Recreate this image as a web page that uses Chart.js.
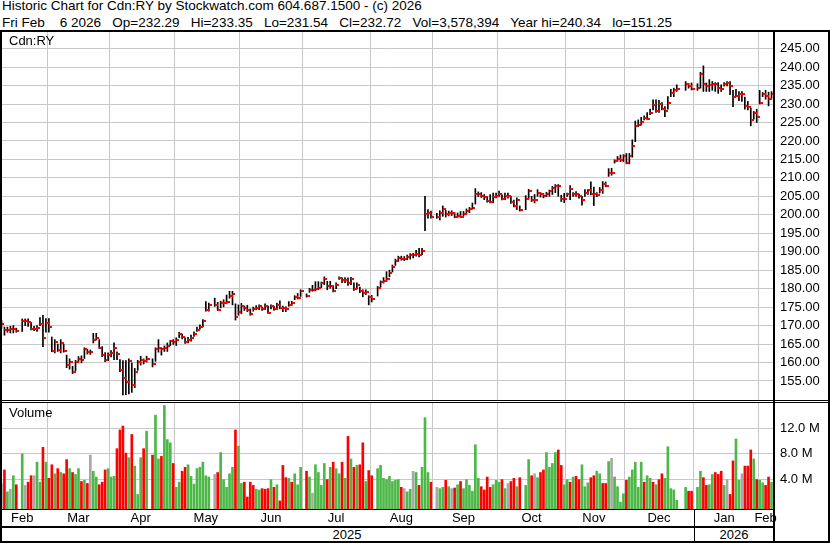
<!DOCTYPE html>
<html lang="en">
<head>
<meta charset="UTF-8">
<title>Historic Chart for Cdn:RY</title>
<style>
    body {
        margin: 0;
        background: #fff;
        font-family: Arial, "Liberation Sans", sans-serif;
        font-size: 13px;
        color: #000;
    }
    #page {
        position: relative;
        width: 830px;
        height: 543px;
        overflow: hidden;
        background: #fff;
    }
    .txt {
        position: absolute;
        white-space: pre;
        line-height: 15px;
    }
    .head {
        font-size: 13.5px;
    }
    .rule {
        position: absolute;
        background: #000;
    }
    .pane {
        position: absolute;
        left: 0;
    }
</style>
</head>
<body>
<div id="page">
    <div class="txt head" style="left:2px; top:-2px;">Historic Chart for Cdn:RY by Stockwatch.com 604.687.1500 - (c) 2026</div>
    <div class="txt head" style="left:2px; top:15px;">Fri Feb    6 2026   Op=232.29   Hi=233.35   Lo=231.54   Cl=232.72   Vol=3,578,394   Year hi=240.34   lo=151.25</div>

    <div class="pane" style="top:32px;"><canvas id="priceChart" width="830" height="368"></canvas></div>
    <div class="pane" style="top:403px;"><canvas id="volChart" width="830" height="124"></canvas></div>

    <div class="txt" style="left:9px; top:33px;">Cdn:RY</div>
    <div class="txt" style="left:9px; top:405px;">Volume</div>
    <div class="txt" style="left:0; width:694px; top:527px; text-align:center;">2025</div>
    <div class="txt" style="left:694px; width:80px; top:527px; text-align:center;">2026</div>

    <!-- frame -->
    <div class="rule" style="left:0; top:30px; width:830px; height:2px;"></div>
    <div class="rule" style="left:0; top:30px; width:2px; height:513px;"></div>
    <div class="rule" style="left:828px; top:30px; width:2px; height:513px;"></div>
    <div class="rule" style="left:0; top:541px; width:830px; height:2px;"></div>
    <div class="rule" style="left:773px; top:32px; width:2px; height:509px;"></div>
    <div class="rule" style="left:0; top:400px; width:830px; height:1px;"></div>
    <div class="rule" style="left:0; top:402px; width:830px; height:1px;"></div>
    <div class="rule" style="left:0; top:509px; width:775px; height:1px;"></div>
    <div class="rule" style="left:0; top:526px; width:775px; height:2px;"></div>
    <div class="rule" style="left:694px; top:509px; width:1px; height:32px;"></div>
</div>

<script src="https://cdn.jsdelivr.net/npm/chart.js"></script>
<script>
// every weekday from Feb 7 2025 to Feb 6 2026, market holidays are null
const firstDay = '2025-02-07';
const lastDay = '2026-02-06';
const monthNames = ['Jan', 'Feb', 'Mar', 'Apr', 'May', 'Jun', 'Jul', 'Aug', 'Sep', 'Oct', 'Nov', 'Dec'];

const priceTicks = [155, 160, 165, 170, 175, 180, 185, 190, 195, 200, 205, 210, 215, 220, 225, 230, 235, 240, 245];
const volTicks = [4, 8, 12];

const closes = [
    170.4, 168.7, 168.9, 169.0, 169.2, 168.6, null, 171.3, 171.3, 171.1, 169.1, 169.1, 169.4, 170.4, 166.6, 170.8,
    169.5, 163.2, 165.5, 163.4, 165.4, 163.1, 159.2, 160.1, 157.3, 160.1, 161.0, 160.8, 163.6, 162.9, 162.9, 166.2, 166.7, 164.0, 162.0, 160.8, 162.0,
    162.5, 164.0, 162.3, 157.9, 155.7, 154.7, 160.5, 154.0, 157.3, 160.1, 160.8, 160.5, 161.0, null, 159.6, 163.6, 163.9, 163.6, 163.9, 164.4, 165.7, 165.5,
    166.2, 167.7, 166.9, 165.5, 166.2, 166.7, 167.7, 168.9, 169.7, 171.3, 174.1, 175.6, null, 175.6, 174.3, 176.1, 176.2, 176.3, 177.9, 178.6, 172.2, 173.8,
    175.2, 174.7, 174.1, 173.2, 174.5, 174.7, 175.4, 174.5, 175.2, 173.5, 175.2, 174.5, 175.6, 174.7, 174.7, 174.5, 175.6, 176.1, 177.7, 177.5, 179.5,
    null, 178.1, 179.7, 179.7, 179.9, 180.2, 181.4, 182.5, 180.6, 180.6, 179.3, 181.1, 182.9, 182.3, 182.3, 181.4, 182.5, 179.9, 181.1, 179.3, 178.8, 179.0, 177.7,
    177.3, null, 180.2, 181.7, 182.0, 182.6, 184.3, 185.8, 187.4, 188.3, 188.1, 188.1, 188.5, 189.0, 189.0, 189.5, 189.0, 190.3, 200.2, 200.6, 199.5,
    null, 199.5, 200.6, 201.6, 200.2, 200.5, 200.5, 199.5, 199.8, 199.5, 200.2, 200.9, 201.5, 201.8, 205.5, 205.6, 205.2, 204.7, 203.8, 203.5, 204.8, 205.2,
    205.5, 204.4, 205.0, 205.0, 203.6, 202.5, 203.9, 201.2, null, 204.3, 206.4, 204.1, 204.1, 205.9, 205.5, 205.0, 205.5, 206.4, 207.3, 207.9, 207.7, 204.4, 204.3,
    205.6, 207.0, 205.5, 205.6, 205.2, 204.1, 205.9, 206.6, 205.7, 205.7, 205.3, 206.7, 208.3, 207.8, 211.4, 211.4, 214.7, 215.1, 214.8, 215.9,
    214.1, 215.9, 218.5, 224.1, 224.3, 225.0, 226.3, 226.0, 227.7, 229.8, 228.2, 230.0, 228.7, 228.0, 230.4, 232.9, 233.7, 234.1, null, null, 235.4, 235.0, 234.0,
    null, 234.3, 238.2, 235.5, 235.0, 235.2, 235.5, 235.4, 234.3, 234.1, 235.5, 235.7, 235.0, 232.0, 232.3, 232.8, 232.8, 229.5, 229.3, 225.7, 227.5, 226.6,
    230.4, 232.8, 232.3, 231.3, 232.72
];

const highs = [
    171.4, 169.6, 169.6, 169.8, 170.0, 169.3, null, 171.8, 171.8, 171.8, 170.8, 169.8, 170.0, 172.2, 172.8, 171.9,
    171.9, 166.9, 166.2, 165.0, 166.2, 165.0, 162.0, 161.0, 159.0, 160.6, 161.6, 161.8, 164.0, 163.6, 163.4, 167.9, 167.9, 166.2, 164.3, 162.7, 162.6,
    163.2, 165.3, 162.9, 160.8, 160.5, 160.5, 161.0, 159.9, 158.4, 160.6, 161.7, 161.0, 161.7, null, 161.0, 164.0, 166.2, 164.0, 164.5, 165.3, 166.0, 166.2,
    166.7, 168.2, 167.7, 166.7, 166.8, 167.4, 168.3, 169.6, 170.2, 171.6, 176.5, 176.1, null, 177.4, 176.3, 176.6, 177.0, 178.3, 179.3, 179.3, 175.9, 175.6,
    176.0, 175.3, 175.5, 174.5, 175.0, 175.4, 175.6, 175.0, 175.9, 175.3, 175.6, 175.2, 176.1, 176.7, 175.3, 175.1, 176.5, 176.6, 178.1, 178.7, 179.7,
    null, 178.6, 180.1, 180.9, 181.9, 181.9, 181.8, 183.2, 182.0, 182.0, 180.8, 181.6, 183.2, 182.9, 183.0, 182.9, 183.1, 181.6, 181.6, 180.4, 179.7, 179.7, 178.1,
    178.2, null, 180.6, 182.1, 183.0, 184.6, 185.0, 186.4, 188.0, 188.8, 188.8, 188.7, 189.1, 189.5, 189.6, 190.4, 190.9, 190.9, 205.0, 201.4, 201.0,
    null, 200.4, 201.1, 202.4, 201.2, 201.0, 201.1, 200.6, 200.5, 200.9, 200.9, 201.6, 202.0, 203.2, 207.1, 206.2, 206.0, 205.5, 204.9, 205.5, 205.9, 205.9,
    206.4, 205.4, 205.9, 205.9, 205.0, 204.0, 204.6, 202.4, null, 205.2, 206.9, 205.0, 205.5, 206.8, 206.0, 205.7, 206.1, 206.7, 207.7, 208.2, 208.2, 205.3, 205.8,
    205.9, 207.9, 206.0, 206.3, 205.6, 205.0, 206.8, 206.8, 208.9, 207.5, 206.0, 207.4, 209.0, 208.9, 212.5, 212.6, 214.9, 215.8, 216.2, 216.3,
    216.6, 216.6, 220.3, 225.4, 225.7, 226.4, 226.8, 227.7, 228.6, 231.1, 231.1, 231.0, 230.4, 229.3, 232.0, 234.0, 234.3, 235.2, null, null, 236.1, 235.6, 235.7,
    null, 235.5, 238.6, 240.34, 235.7, 236.6, 236.1, 235.8, 235.8, 235.2, 235.8, 236.1, 236.1, 233.7, 234.0, 233.4, 233.4, 231.9, 230.7, 228.9, 228.0, 228.6,
    233.7, 233.1, 233.7, 233.2, 233.35
];

const lows = [
    169.3, 167.4, 168.2, 168.0, 168.0, 168.2, null, 168.4, 170.0, 169.8, 168.8, 168.6, 168.4, 170.0, 164.3, 168.2,
    168.2, 162.9, 162.6, 163.0, 162.6, 162.8, 158.6, 158.2, 157.0, 157.8, 160.2, 159.9, 161.1, 162.3, 162.2, 165.3, 166.1, 163.8, 161.6, 160.2, 160.5,
    161.5, 160.8, 160.8, 157.5, 151.25, 151.3, 151.5, 151.9, 153.2, 157.9, 159.3, 159.6, 160.1, null, 158.8, 160.3, 162.8, 162.0, 163.0, 163.0, 164.6, 164.9,
    164.6, 166.7, 166.4, 165.2, 165.3, 165.8, 167.1, 168.4, 169.0, 169.7, 173.9, 173.9, null, 175.2, 174.1, 174.8, 175.1, 175.9, 177.4, 175.6, 171.5, 172.8,
    173.2, 174.1, 173.8, 172.8, 173.9, 174.3, 174.3, 174.1, 174.3, 173.3, 174.5, 174.1, 174.3, 174.5, 173.8, 173.8, 175.2, 175.4, 177.0, 177.2, 177.9,
    null, 177.7, 179.0, 179.3, 179.4, 179.7, 180.3, 181.1, 179.7, 180.1, 179.1, 180.0, 182.5, 181.6, 181.6, 180.9, 181.1, 179.5, 179.9, 178.9, 177.8, 178.4, 175.6,
    176.4, null, 178.0, 180.4, 181.5, 182.0, 183.2, 184.5, 186.3, 187.4, 187.7, 187.6, 187.8, 188.0, 188.3, 188.8, 188.6, 189.2, 195.7, 199.1, 199.1,
    null, 199.0, 198.6, 199.6, 199.4, 199.7, 199.8, 199.2, 199.3, 199.3, 199.7, 200.3, 200.6, 201.5, 202.9, 204.9, 204.7, 204.1, 203.4, 203.2, 203.3, 204.6,
    205.0, 204.0, 204.1, 204.5, 203.1, 202.1, 201.4, 201.0, null, 201.4, 204.3, 203.6, 203.2, 205.0, 204.8, 204.6, 204.9, 205.0, 205.5, 206.0, 205.0, 203.6, 203.3,
    205.0, 204.1, 205.0, 205.0, 204.5, 202.6, 205.0, 205.5, 205.4, 202.5, 204.9, 205.9, 205.8, 207.6, 210.4, 210.7, 214.0, 214.5, 214.4, 214.4,
    213.8, 213.8, 215.6, 219.8, 223.9, 224.3, 225.7, 225.8, 227.1, 228.4, 227.7, 227.7, 228.4, 226.6, 228.6, 232.0, 232.0, 233.4, null, null, 233.7, 234.3, 233.8,
    null, 233.7, 234.3, 233.4, 233.4, 233.4, 233.7, 233.4, 232.9, 233.4, 234.8, 234.9, 232.5, 229.3, 232.0, 230.9, 230.7, 228.6, 228.4, 224.1, 225.9, 225.0,
    230.0, 232.0, 231.3, 229.5, 231.54
];

// volume in millions of shares
const volumeM = [
    3.4, 5.5, 2.1, 2.5, 4.6, 3.2, null, 8.0, 3.1, 3.6, 4.6, 4.6, 6.7, 3.6, 9.0, 6.7,
    4.2, 6.3, 4.9, 5.7, 5.1, 4.9, 7.1, 5.7, 5.1, 4.8, 5.7, 3.7, 3.9, 3.4, 7.8, 5.3, 4.4, 3.2, 3.6, 5.5, 5.7,
    4.4, 4.5, 8.8, 11.7, 12.3, 8.1, 7.4, 11.0, 6.1, 1.7, 7.4, 8.8, 11.5, null, 7.8, 14.0, 7.2, 7.6, 15.5, 10.2, 9.7, 6.5,
    2.8, 3.6, 5.3, 5.9, 6.3, 4.5, 3.3, 5.7, 5.9, 6.7, 4.6, 4.4, null, 4.8, 5.1, 8.2, 4.0, 2.8, 4.9, 5.9, 11.7, 9.2,
    3.4, 3.6, 1.3, 3.6, 3.1, 2.5, 2.4, 2.6, 2.5, 2.6, 4.0, 2.8, 3.2, 0.7, 6.2, 4.3, 4.2, 3.6, 4.9, 3.2, 5.9,
    null, 5.3, 4.4, 1.9, 6.3, 5.1, 3.1, 6.5, 4.0, 5.9, 6.7, 5.7, 4.9, 6.7, 4.2, 10.7, 7.2, 5.9, 6.2, 6.3, 9.7, 3.7, 5.4,
    4.6, null, 5.7, 6.2, 4.2, 4.0, 4.5, 3.7, 3.9, 4.0, 2.8, 2.6, 2.1, 2.5, 5.3, 5.1, 3.1, 5.9, 13.6, 5.1, 3.6,
    null, 2.8, 2.6, 2.8, 3.9, 2.9, 2.6, 2.7, 3.2, 3.7, 2.6, 4.0, 3.1, 2.2, 9.4, 4.2, 2.9, 2.4, 4.4, 2.8, 3.2, 3.9,
    3.6, 4.0, 2.6, 3.4, 3.7, 4.2, 2.9, 4.3, null, 3.1, 7.1, 4.6, 4.9, 4.3, 5.1, 5.5, 8.2, 5.9, 6.5, 8.2, 8.6, 6.2, 3.2,
    4.0, 3.6, 4.4, 4.5, 4.0, 6.3, 2.9, 3.5, 4.3, 4.6, 5.3, 4.9, 3.4, 3.4, 6.8, 7.3, 4.4, 2.9, 0.5, 1.8,
    3.9, 4.4, 5.5, 6.7, 2.8, 6.7, 3.6, 4.6, 4.2, 3.6, 3.2, 4.0, 4.9, 4.2, 9.1, 2.6, 2.4, 0.8, null, null, 2.8, 2.2, 2.2,
    null, 2.8, 5.3, 4.3, 3.1, 3.2, 4.8, 5.1, 4.8, 5.3, 3.1, 4.0, 1.7, 6.9, 10.3, 3.9, 4.9, 6.1, 6.1, 8.6, 7.2, 4.0,
    3.9, 3.5, 3.1, 4.4, 3.58
];

// G = up day, R = down day, Y = unchanged, - = holiday
const moves = (
    'YRGYGR-GYRRYGGRG' +
    'RRGRGRRGRGGRGRYGGRRRG' +
    'GGRRRRGRGGGRG-RGGRGGGR' +
    'GGRRGGGGGGGG-YRGGGGGRG' +
    'GRRRRGGRRRGRGRRRGRGGG' +
    '-RGYGGGGRGRGGRGRGRGRRGR' +
    'R-GGGGGGGGRYGGYGRGGGR' +
    '-YGGRGYRGRGGGGGGRRRRGG' +
    'GRGYRRGR-GGRYGRRGGGGRRG' +
    'GRGRRGGGRRGGRRGYGGGG' +
    'RGGGGGRGGRGRRGGGGG--GRR' +
    '-GGRRGGRRRGYRRGGYRRRGR' +
    'GGRRG'
).split('');

const volColors = { G: '#4cb848', R: '#ff0000', Y: '#a8a8a8' };
const gridColor = '#c8c8c8';

// weekday calendar
const days = [];
for (let d = new Date(firstDay + 'T12:00:00Z'); d <= new Date(lastDay + 'T12:00:00Z'); d.setUTCDate(d.getUTCDate() + 1)) {
    const wd = d.getUTCDay();
    if (wd !== 0 && wd !== 6) days.push(new Date(d));
}
const labels = days.map(d => d.toISOString().slice(0, 10));

// month boundaries (grid lines) and mid-month label positions
const monthStart = new Set();
const monthText = labels.map(() => '');
let groupStart = 0;
for (let i = 1; i <= days.length; i++) {
    if (i === days.length || days[i].getUTCMonth() !== days[i - 1].getUTCMonth()) {
        const mid = Math.floor((groupStart + i - 1) / 2);
        monthText[mid] = monthNames[days[groupStart].getUTCMonth()];
        if (i < days.length) monthStart.add(i);
        groupStart = i;
    }
}

// red close tick drawn to the right of each high-low line
const tickImg = document.createElement('canvas');
tickImg.width = 6;
tickImg.height = 2;
const tctx = tickImg.getContext('2d');
tctx.fillStyle = '#ff0000';
tctx.fillRect(3, 0, 3, 2);

Chart.defaults.font.family = 'Arial, "Liberation Sans", sans-serif';
Chart.defaults.font.size = 13;
Chart.defaults.color = '#000';

// no extra room around the plot for tick labels
function noPad(s) {
    s.paddingTop = 0;
    s.paddingBottom = 0;
    s.paddingLeft = 0;
    s.paddingRight = 0;
}

const xGrid = {
    offset: true,
    drawTicks: false,
    color: ctx => monthStart.has(ctx.index) ? gridColor : 'rgba(0,0,0,0)'
};

new Chart(document.getElementById('priceChart'), {
    type: 'bar',
    data: {
        labels: labels,
        datasets: [
            {
                type: 'line',
                data: closes,
                showLine: false,
                pointStyle: tickImg,
                pointRadius: 2,
                order: 0
            },
            {
                type: 'bar',
                data: labels.map((_, i) => highs[i] == null ? null : [lows[i], highs[i]]),
                backgroundColor: '#000',
                barThickness: 1,
                order: 1
            }
        ]
    },
    options: {
        responsive: false,
        animation: false,
        events: [],
        layout: { padding: 0, autoPadding: false },
        plugins: { legend: { display: false }, tooltip: { enabled: false } },
        scales: {
            x: {
                offset: true,
                grid: xGrid,
                border: { display: false },
                ticks: { display: false },
                afterFit: s => { s.height = 0; noPad(s); }
            },
            y: {
                position: 'right',
                min: 149.85,
                max: 249.5,
                grid: { color: gridColor, drawTicks: false },
                border: { display: false },
                afterBuildTicks: s => { s.ticks = priceTicks.map(v => ({ value: v })); },
                ticks: { padding: 7, callback: v => v.toFixed(2) },
                afterFit: s => { s.width = 57; noPad(s); }
            }
        }
    }
});

new Chart(document.getElementById('volChart'), {
    type: 'bar',
    data: {
        labels: labels,
        datasets: [{
            data: volumeM,
            backgroundColor: moves.map(m => volColors[m] || 'rgba(0,0,0,0)'),
            barThickness: 2,
            base: -0.56
        }]
    },
    options: {
        responsive: false,
        animation: false,
        events: [],
        layout: { padding: 0, autoPadding: false },
        plugins: { legend: { display: false }, tooltip: { enabled: false } },
        scales: {
            x: {
                offset: true,
                grid: xGrid,
                border: { display: false },
                ticks: {
                    autoSkip: false,
                    maxRotation: 0,
                    minRotation: 0,
                    padding: 2,
                    callback: (v, i) => monthText[i]
                },
                afterFit: s => { s.height = 18; noPad(s); }
            },
            y: {
                position: 'right',
                min: -0.56,
                max: 15.88,
                grid: { color: gridColor, drawTicks: false },
                border: { display: false },
                afterBuildTicks: s => { s.ticks = volTicks.map(v => ({ value: v })); },
                ticks: { padding: 7, callback: v => v.toFixed(1) + ' M' },
                afterFit: s => { s.width = 57; noPad(s); }
            }
        }
    }
});
</script>
</body>
</html>
